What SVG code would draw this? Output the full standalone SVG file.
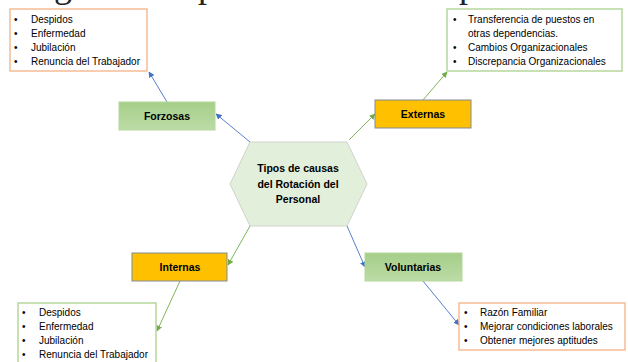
<svg xmlns="http://www.w3.org/2000/svg" width="628" height="362" viewBox="0 0 628 362">
<defs>
<linearGradient id="gg" x1="0" y1="0" x2="0" y2="1">
<stop offset="0" stop-color="#a5ce88"/>
<stop offset="1" stop-color="#bcdca6"/>
</linearGradient>
<marker id="ab" viewBox="0 0 10 10" refX="9" refY="5" markerWidth="6" markerHeight="6" markerUnits="userSpaceOnUse" orient="auto"><path d="M0,0 L10,5 L0,10 z" fill="#4472c4"/></marker>
<marker id="ag" viewBox="0 0 10 10" refX="9" refY="5" markerWidth="6" markerHeight="6" markerUnits="userSpaceOnUse" orient="auto"><path d="M0,0 L10,5 L0,10 z" fill="#70ad47"/></marker>
</defs>
<style>
.t{font-family:"Liberation Sans",Arial,sans-serif;font-size:10px;fill:#000}
.b{font-family:"Liberation Sans",Arial,sans-serif;font-size:10.5px;font-weight:bold;fill:#000;text-anchor:middle}
.lo{fill:#fff;stroke:#f4b183;stroke-width:1.3}
.lg{fill:#fff;stroke:#a9d18e;stroke-width:1.3}
.gb{fill:url(#gg);stroke:#b5d89d;stroke-width:1}
.yb{fill:#ffc000;stroke:#808b98;stroke-width:1}
.cb{fill:none;stroke:#4472c4;stroke-width:0.9;marker-end:url(#ab)}
.cg{fill:none;stroke:#70ad47;stroke-width:0.9;marker-end:url(#ag)}
.bg{font-family:"Liberation Serif","Times New Roman",serif;font-size:36px;fill:#222}
</style>
<rect width="628" height="362" fill="#fff"/>
<g id="page-fragments">
<text class="bg" x="54" y="-3.5">g</text>
<text class="bg" x="198" y="-3.5">p</text>
<text class="bg" x="459" y="-3.5">p</text>
</g>
<g id="connectors">
<line class="cb" x1="167" y1="102" x2="149" y2="72"/>
<line class="cb" x1="250" y1="142" x2="216" y2="114"/>
<line class="cg" x1="349" y1="140" x2="375" y2="114"/>
<line class="cg" x1="423" y1="100" x2="447" y2="72"/>
<line class="cg" x1="250" y1="226" x2="228" y2="265"/>
<line class="cg" x1="180" y1="281" x2="157" y2="331"/>
<line class="cb" x1="347" y1="226" x2="365" y2="267"/>
<line class="cb" x1="423" y1="281" x2="459" y2="325"/>
</g>
<g id="list-forzosas">
<rect class="lo" x="10" y="9" width="137" height="62"/>
<text class="t" x="14" y="23">•</text><text class="t" x="31" y="23">Despidos</text>
<text class="t" x="14" y="37">•</text><text class="t" x="31" y="37">Enfermedad</text>
<text class="t" x="14" y="51">•</text><text class="t" x="31" y="51">Jubilación</text>
<text class="t" x="14" y="65">•</text><text class="t" x="31" y="65">Renuncia del Trabajador</text>
</g>
<g id="list-externas">
<rect class="lg" x="447" y="9" width="175" height="62"/>
<text class="t" x="453" y="23">•</text><text class="t" x="468" y="23">Transferencia de puestos en</text>
<text class="t" x="468" y="37">otras dependencias.</text>
<text class="t" x="453" y="51">•</text><text class="t" x="468" y="51">Cambios Organizacionales</text>
<text class="t" x="453" y="65">•</text><text class="t" x="468" y="65">Discrepancia Organizacionales</text>
</g>
<g id="forzosas">
<rect class="gb" x="119" y="102" width="96" height="28"/>
<text class="b" x="167" y="120">Forzosas</text>
</g>
<g id="externas">
<rect class="yb" x="375" y="100" width="96" height="28"/>
<text class="b" x="423" y="118">Externas</text>
</g>
<g id="center">
<polygon points="250,142 347,142 367,184 347,226 250,226 230,184" fill="#e2efda" stroke="#cfd3cc" stroke-width="1"/>
<text class="b" x="298" y="172">Tipos de causas</text>
<text class="b" x="298" y="187.5">del Rotación del</text>
<text class="b" x="298" y="203">Personal</text>
</g>
<g id="internas">
<rect class="yb" x="132" y="253" width="95" height="28"/>
<text class="b" x="180" y="271">Internas</text>
</g>
<g id="voluntarias">
<rect class="gb" x="365" y="253" width="97" height="28"/>
<text class="b" x="413" y="271">Voluntarias</text>
</g>
<g id="list-internas">
<rect class="lg" x="18" y="303" width="138" height="64"/>
<text class="t" x="22" y="316">•</text><text class="t" x="39" y="316">Despidos</text>
<text class="t" x="22" y="330">•</text><text class="t" x="39" y="330">Enfermedad</text>
<text class="t" x="22" y="344">•</text><text class="t" x="39" y="344">Jubilación</text>
<text class="t" x="22" y="358">•</text><text class="t" x="39" y="358">Renuncia del Trabajador</text>
</g>
<g id="list-voluntarias">
<rect class="lo" x="459" y="303" width="166" height="47"/>
<text class="t" x="464" y="316">•</text><text class="t" x="480" y="316">Razón Familiar</text>
<text class="t" x="464" y="330">•</text><text class="t" x="480" y="330">Mejorar condiciones laborales</text>
<text class="t" x="464" y="344">•</text><text class="t" x="480" y="344">Obtener mejores aptitudes</text>
</g>
</svg>
